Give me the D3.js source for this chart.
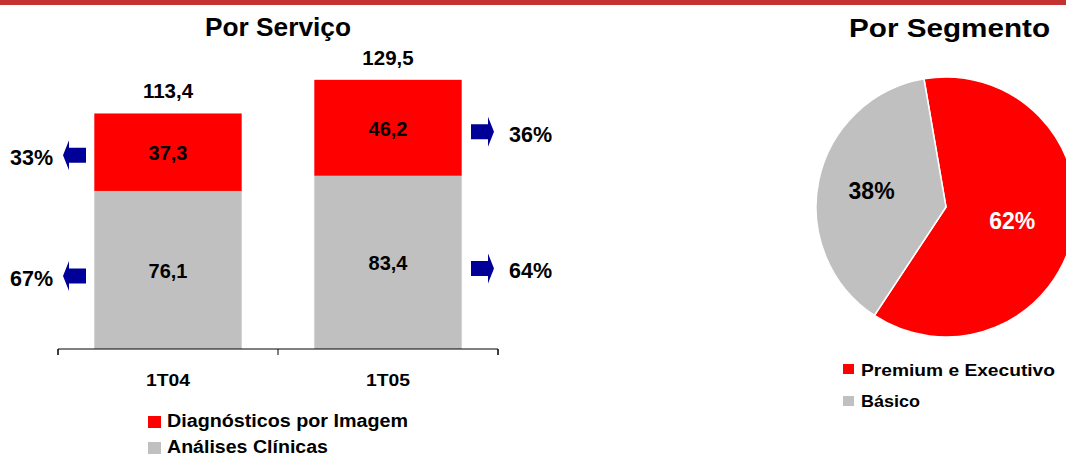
<!DOCTYPE html>
<meta charset="utf-8">
<head>
  <style>
    body { margin: 0; background: #fff; }
    svg { display: block; }
    text { font-family: "Liberation Sans", Arial, sans-serif; font-weight: bold; }
  </style>
</head>
<body>
<svg id="chart" width="1066" height="454"></svg>
<script src="https://d3js.org/d3.v7.min.js"></script>
<script>

  // data
  var periods = ["1T04", "1T05"];
  var analises = [76.1, 83.4];        // Análises Clínicas
  var diagnosticos = [37.3, 46.2];    // Diagnósticos por Imagem
  var totals = ["113,4", "129,5"];
  var shareDiag = ["33%", "36%"];
  var shareAnal = ["67%", "64%"];

  var segNames = ["Premium e Executivo", "Básico"];
  var segValues = [62, 38];

  var RED = "#ff0000", GRAY = "#c0c0c0", BLUE = "#000099";

  var svg = d3.select("#chart");

  // stretch a text to the width it has in the picture
  function fit(sel, w) { return sel.attr("textLength", w).attr("lengthAdjust", "spacingAndGlyphs"); }

  // red band across the top
  svg.append("rect").attr("x", 0).attr("y", 0).attr("width", 1066).attr("height", 5).attr("fill", "#c43232");

  // ---- bar chart
  var x = d3.scaleBand().domain(periods).range([58, 498]);
  var y = d3.scaleLinear().domain([0, 140]).range([349, 349 - 140 * 2.077]);
  var bw = x.bandwidth() * 0.67;
  var fmt = function (v) { return String(v.toFixed(1)).replace(".", ","); };

  fit(svg.append("text").attr("x", 205).attr("y", 36)
     .style("font-size", "26px").text("Por Serviço"), 146);

  var g = svg.selectAll("g.per").data(periods).enter().append("g").attr("class", "per");
  g.each(function (p, i) {
    var gg = d3.select(this);
    var cx = x(p) + x.bandwidth() / 2;
    var a = analises[i], d = diagnosticos[i];
    gg.append("rect").attr("x", cx - bw / 2).attr("y", y(a)).attr("width", bw)
      .attr("height", y(0) - y(a)).attr("fill", GRAY);
    gg.append("rect").attr("x", cx - bw / 2).attr("y", y(a + d)).attr("width", bw)
      .attr("height", y(a) - y(a + d)).attr("fill", RED);
    gg.append("text").attr("x", cx).attr("y", (y(0) + y(a)) / 2 + 8).attr("text-anchor", "middle")
      .style("font-size", "20px").text(fmt(a));
    gg.append("text").attr("x", cx).attr("y", (y(a) + y(a + d)) / 2 + 8).attr("text-anchor", "middle")
      .style("font-size", "20px").text(fmt(d));
    gg.append("text").attr("x", cx).attr("y", y(a + d) - 15).attr("text-anchor", "middle")
      .style("font-size", "20.5px").text(totals[i]);
  });

  var xAxis = svg.append("g").attr("transform", "translate(0,349)")
    .call(d3.axisBottom(x).tickSize(0).tickPadding(24));
  xAxis.select(".domain").attr("stroke", "#000").attr("d", "M58,6V0H498V6");
  xAxis.selectAll("text").style("font-size", "17px").style("font-family", "Liberation Sans, Arial, sans-serif")
    .attr("fill", "#000").attr("y", 37).attr("dy", 0).attr("textLength", 44).attr("lengthAdjust", "spacingAndGlyphs");
  // band separators as tick marks
  x.range().concat([x(periods[1])]).forEach(function (t) {
    xAxis.append("line").attr("x1", t).attr("x2", t).attr("y1", 0).attr("y2", 6).attr("stroke", "#000");
  });

  // arrows
  function arrow(cx, cy, dir) {
    // dir -1 points left, 1 points right
    var tip = cx + dir * 11.5, base = cx - dir * 11.5, neck = tip - dir * 6;
    var pts = [[base, cy - 7.5], [neck, cy - 7.5], [neck, cy - 15], [tip, cy], [neck, cy + 15], [neck, cy + 7.5], [base, cy + 7.5]];
    svg.append("path").attr("d", d3.line()(pts) + "Z").attr("fill", BLUE);
  }
  var yd0 = (y(analises[0]) + y(analises[0] + diagnosticos[0])) / 2 + 3;
  var ya0 = (y(0) + y(analises[0])) / 2 + 6;
  var yd1 = (y(analises[1]) + y(analises[1] + diagnosticos[1])) / 2 + 4;
  var ya1 = (y(0) + y(analises[1])) / 2 + 6;
  arrow(74.5, yd0, -1); arrow(74.5, ya0, -1);
  arrow(482.5, yd1, 1); arrow(482.5, ya1, 1);
  var pct = [[10, yd0, shareDiag[0]], [10, ya0, shareAnal[0]], [509, yd1, shareDiag[1]], [509, ya1, shareAnal[1]]];
  pct.forEach(function (q) {
    svg.append("text").attr("x", q[0]).attr("y", q[1] + 10).style("font-size", "21.5px").text(q[2]);
  });

  // legend left
  var legL = [["Diagnósticos por Imagem", RED, 241], ["Análises Clínicas", GRAY, 161]];
  legL.forEach(function (l, i) {
    svg.append("rect").attr("x", 148).attr("y", 416 + i * 26).attr("width", 13).attr("height", 12).attr("fill", l[1]);
    fit(svg.append("text").attr("x", 167).attr("y", 427 + i * 26).style("font-size", "18px").text(l[0]), l[2]);
  });

  // ---- pie
  fit(svg.append("text").attr("x", 849).attr("y", 37)
     .style("font-size", "26px").text("Por Segmento"), 201);

  var pcx = 946, pcy = 207, r = 130;
  var start = -9.75 * Math.PI / 180;
  var pie = d3.pie().sort(null).startAngle(start).endAngle(start + 2 * Math.PI);
  var arc = d3.arc().innerRadius(0).outerRadius(r);
  var arcs = pie(segValues);
  var pg = svg.append("g").attr("transform", "translate(" + pcx + "," + pcy + ")");
  pg.selectAll("path").data(arcs).enter().append("path")
    .attr("d", arc).attr("fill", function (d, i) { return i === 0 ? RED : GRAY; })
    .attr("stroke", "#fff").attr("stroke-width", 1.5);
  pg.selectAll("text").data(arcs).enter().append("text")
    .attr("transform", function (d, i) {
      var lr = i === 0 ? r * 0.52 : r * 0.585;
      var c = d3.arc().innerRadius(lr).outerRadius(lr).centroid(d);
      return "translate(" + c + ")";
    })
    .attr("dy", 8).attr("text-anchor", "middle").style("font-size", "23px")
    .attr("fill", function (d, i) { return i === 0 ? "#fff" : "#000"; })
    .text(function (d) { return d.value + "%"; });

  var legR = [[segNames[0], RED, 194], [segNames[1], GRAY, 59]];
  legR.forEach(function (l, i) {
    svg.append("rect").attr("x", 843).attr("y", 364 + i * 32).attr("width", 11).attr("height", 10).attr("fill", l[1]);
    fit(svg.append("text").attr("x", 861).attr("y", 376 + i * 31).style("font-size", "17px").text(l[0]), l[2]);
  });

</script>
</body>
